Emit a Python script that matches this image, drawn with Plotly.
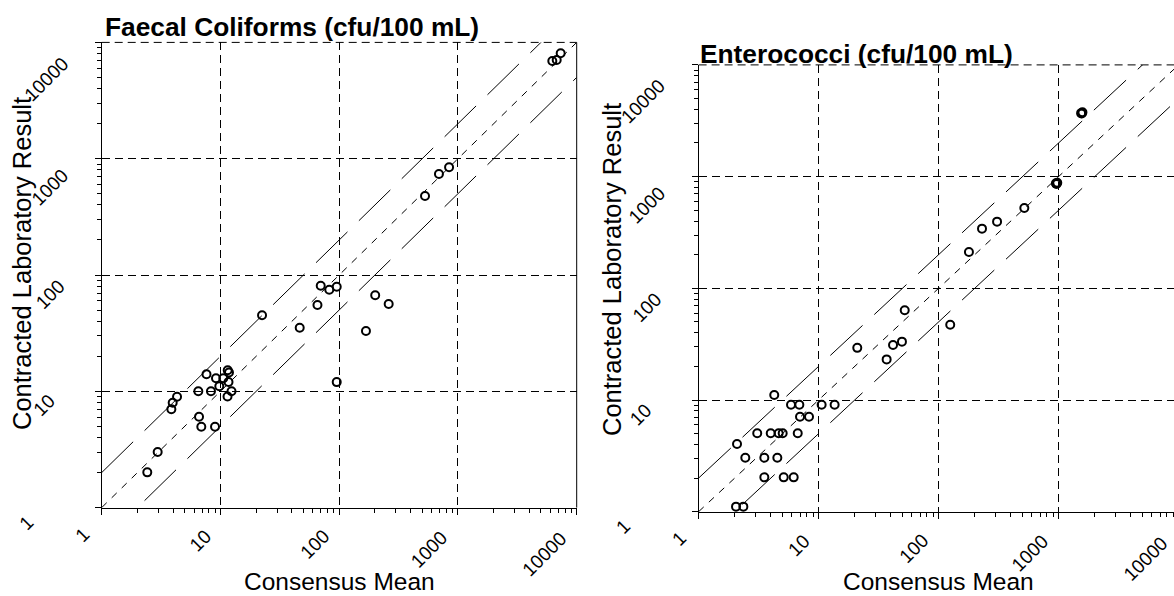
import math
import plotly.graph_objects as go

# The page is made a little larger than the 1174x596 window; the window shows its top-left part.
W, H = 1200, 620
FONT = "Liberation Sans, Arial, sans-serif"

# ---------------- data ----------------
fc_mean = [2.42, 2.96, 3.86, 3.96, 4.31, 6.51, 6.60, 6.90, 9.00, 7.63, 8.32, 9.17,
           9.78, 10.57, 11.51, 11.8, 11.69, 12.39, 11.47, 22.4, 46.5, 65.6, 69.9,
           82.5, 95.3, 95.3, 168, 201, 261, 528, 692, 842, 6232, 6786, 7330]
fc_lab = [2.01, 3.01, 7.00, 7.98, 8.99, 10.0, 6.05, 4.96, 4.96, 14.0, 10.0, 12.96,
          11.06, 12.94, 15.16, 14.5, 12.02, 10.0, 9.02, 45.0, 35.2, 55.2, 80.9,
          74.7, 79.3, 12.0, 33.0, 66.9, 56.3, 478, 738, 844, 6918, 7060, 8056]

ent_mean = [2.05, 2.36, 2.09, 2.45, 3.08, 3.53, 3.53, 3.99, 4.27, 4.53, 4.65, 5.02,
            5.12, 5.89, 6.20, 6.70, 6.91, 7.00, 8.32, 10.6, 13.6, 21.0, 36.9, 41.7,
            49.5, 52.2, 125, 179, 230, 307, 518, 950, 975, 960, 1540, 1580, 1560]
ent_lab = [1.11, 1.11, 4.04, 3.04, 5.03, 3.04, 2.03, 5.03, 11.1, 3.04, 5.03, 5.03,
           2.03, 9.08, 2.03, 5.03, 9.08, 7.09, 7.09, 9.08, 9.08, 29.3, 23.1, 31.1,
           33.3, 63.5, 47.2, 211, 342, 395, 524, 870, 880, 860, 3700, 3760, 3680]

tick_vals = [1, 10, 100, 1000, 10000]
tick_text = ["1", "10", "100", "1000", "10000"]
ref_x = [1, 10000]
ref_factors = [0.5, 1, 2]

titles = ["Faecal Coliforms (cfu/100 mL)", "Enterococci (cfu/100 mL)"]
x_title = "Consensus Mean"
y_title = "Contracted Laboratory Result"

minor_vals = [m * 10 ** d for d in range(0, 4) for m in range(2, 10)]

# rotated tick-label centre offsets in pixels (x labels: from tick / axis line;
# y labels: from axis line / tick)
xlab_off = [(-19, 27), (-19.8, 33.3), (-24.7, 36.7), (-29, 42), (-32.7, 46.8)]
ylab_off = [(-75, 15), (-57.7, 14.6), (-51.7, 19), (-52, 29), (-55.6, 37)]

# panel frames in window pixels: left, right, top, bottom
frames = [(101.7, 576.7, 42.4, 507.6), (698.6, 1178.6, 64.9, 511.7)]


def fx(p):
    return p / W


def fy(p):
    return (H - p) / H


fig = go.Figure()

panels = [
    dict(x=fc_mean, y=fc_lab, xa="x", ya="y"),
    dict(x=ent_mean, y=ent_lab, xa="x2", ya="y2"),
]

for p in panels:
    for f in ref_factors:
        fig.add_trace(go.Scatter(
            x=ref_x, y=[f * v for v in ref_x], mode="lines",
            line=dict(color="black", width=1,
                      dash="7px,7px" if f == 1 else "44px,16px"),
            xaxis=p["xa"], yaxis=p["ya"], hoverinfo="skip", showlegend=False))
    fig.add_trace(go.Scatter(
        x=p["x"], y=p["y"], mode="markers",
        marker=dict(symbol="circle-open", size=8, color="black",
                    line=dict(width=2, color="black")),
        xaxis=p["xa"], yaxis=p["ya"], showlegend=False, cliponaxis=False))

axis_common = dict(
    type="log", range=[0, 4], showline=True, linecolor="black", linewidth=1,
    ticks="outside", ticklen=6, tickcolor="black", tickwidth=1,
    tickvals=tick_vals, showticklabels=False,
    showgrid=True, gridcolor="black", gridwidth=1, griddash="8px,5px",
    zeroline=False,
    minor=dict(ticks="outside", ticklen=4, tickcolor="black", tickwidth=1,
               tickvals=minor_vals, showgrid=False),
)

lay = {}
for i, (l, r, t, b) in enumerate(frames):
    sfx = "" if i == 0 else str(i + 1)
    lay["xaxis" + sfx] = dict(axis_common, domain=[fx(l), fx(r)], anchor="y" + sfx)
    lay["yaxis" + sfx] = dict(axis_common, domain=[fy(b), fy(t)], anchor="x" + sfx)

fig.update_layout(
    width=W, height=H, autosize=False,
    margin=dict(l=0, r=0, t=0, b=0),
    paper_bgcolor="white", plot_bgcolor="white",
    font=dict(family=FONT, color="black"),
    **lay,
)

fig.add_shape(type="line", xref="x domain", yref="y domain", x0=0, x1=1, y0=1, y1=1,
              line=dict(color="black", width=1, dash="8px,5px"))
fig.add_shape(type="line", xref="x domain", yref="y domain", x0=1, x1=1, y0=0, y1=1,
              line=dict(color="black", width=1))
fig.add_shape(type="line", xref="x2 domain", yref="y2 domain", x0=0, x1=1, y0=1, y1=1,
              line=dict(color="black", width=1, dash="8px,5px"))

TICK_FS = 19
ann = []
for p in panels:
    for v, t, (xdx, xdy), (ydx, ydy) in zip(tick_vals, tick_text, xlab_off, ylab_off):
        ann.append(dict(text=t, x=math.log10(v), xref=p["xa"], y=0, yref=p["ya"] + " domain",
                        xanchor="center", yanchor="middle", textangle=-45, showarrow=False,
                        xshift=xdx, yshift=-xdy,
                        font=dict(family=FONT, size=TICK_FS, color="black")))
        ann.append(dict(text=t, x=0, xref=p["xa"] + " domain", y=math.log10(v), yref=p["ya"],
                        xanchor="center", yanchor="middle", textangle=-45, showarrow=False,
                        xshift=ydx, yshift=-ydy,
                        font=dict(family=FONT, size=TICK_FS, color="black")))

ann.append(dict(text="<b>" + titles[0] + "</b>", x=fx(103), y=fy(27.5),
                xref="paper", yref="paper", xanchor="left", yanchor="middle",
                showarrow=False, font=dict(family=FONT, size=26.3, color="black")))
ann.append(dict(text="<b>" + titles[1] + "</b>", x=fx(698), y=fy(54),
                xref="paper", yref="paper", xanchor="left", yanchor="middle",
                showarrow=False, font=dict(family=FONT, size=26.3, color="black")))
for cx in (339.2, 938.6):
    ann.append(dict(text=x_title, x=fx(cx), y=fy(581.5), xref="paper", yref="paper",
                    xanchor="center", yanchor="middle", showarrow=False,
                    font=dict(family=FONT, size=24.5, color="black")))
for cx, cy in ((22, 264), (612, 270)):
    ann.append(dict(text=y_title, x=fx(cx), y=fy(cy), xref="paper", yref="paper",
                    xanchor="center", yanchor="middle", showarrow=False, textangle=-90,
                    font=dict(family=FONT, size=25.5, color="black")))
fig.update_layout(annotations=ann)

fig.write_html("out.html", config={"displayModeBar": False},
               post_script="document.body.style.margin='0';"
                           "document.body.style.overflow='hidden';")
